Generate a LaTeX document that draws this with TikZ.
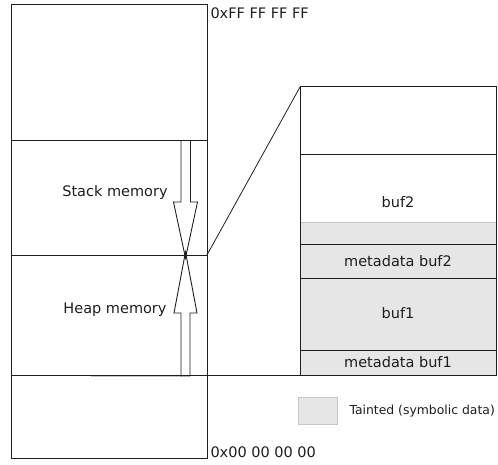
\documentclass[tikz,border=0pt]{standalone}
\usepackage{fontspec}
\setmainfont{DejaVu Sans}
\definecolor{taint}{HTML}{E6E6E6}
\definecolor{taintline}{HTML}{C8C8C8}
\definecolor{ink}{HTML}{1E1E1E}
\begin{document}
\begin{tikzpicture}[x=1pt,y=-1pt,line width=1pt,
  frame/.style={draw=ink},
  label/.style={font=\fontsize{14.5}{17}\selectfont,text=ink,inner sep=0pt},
  small/.style={font=\fontsize{12.4}{15}\selectfont,text=ink,inner sep=0pt},
  hollow/.style={draw=ink,line width=0.9pt,line join=miter}]
\useasboundingbox (0,0) rectangle (498,465);

% address space column
\coordinate (memTL) at (11,5);
\coordinate (memBR) at (207,458);
\coordinate (heapTR) at (207,255);
\draw[frame] (memTL) rectangle (memBR);
\draw[frame] (11,141) -- (207,141);
\draw[frame] (11,255) -- (heapTR);
\draw[frame] (11,375) -- (300,375);
\draw[taintline,line width=0.8pt] (91,376.5) -- (182,376.5);

% growth arrows
\draw[hollow] (181,141) -- (181,202) -- (173.5,202) -- (185.5,258) -- (197.5,202)
  -- (190.5,202) -- (190.5,141);
\draw[hollow] (181,376) -- (181,313) -- (174,313) -- (185.5,252) -- (197,313)
  -- (190,313) -- (190,376) -- cycle;

\node[label] (stack) at (115,192) {Stack memory};
\node[label] (heap) at (115,310) {Heap memory};
\node[label,anchor=west] (top) at (210,13) {0xFF FF FF FF};
\node[label,anchor=west] (bottom) at (210,452) {0x00 00 00 00};

% zoomed heap detail
\coordinate (zoomTL) at (300,87);
\fill[taint] (300,223) rectangle (496,375);
\draw[taintline] (300,223) -- (496,223);
\draw[frame] (zoomTL) rectangle (496,375);
\draw[frame] (300,155) -- (496,155);
\draw[frame] (300,244.5) -- (496,244.5);
\draw[frame] (300,278) -- (496,278);
\draw[frame] (300,350) -- (496,350);
\draw[frame,line width=0.8pt] (heapTR) -- (zoomTL);

\node[label] (buf2) at (398,202) {buf2};
\node[label] (meta2) at (398,261.5) {metadata buf2};
\node[label] (buf1) at (398,313) {buf1};
\node[label] (meta1) at (398,362.5) {metadata buf1};

% legend
\filldraw[fill=taint,draw=taintline,line width=0.6pt] (298,397) rectangle (337,424);
\node[small,anchor=west] (legend) at (349,411) {Tainted (symbolic data)};
\end{tikzpicture}
\end{document}
